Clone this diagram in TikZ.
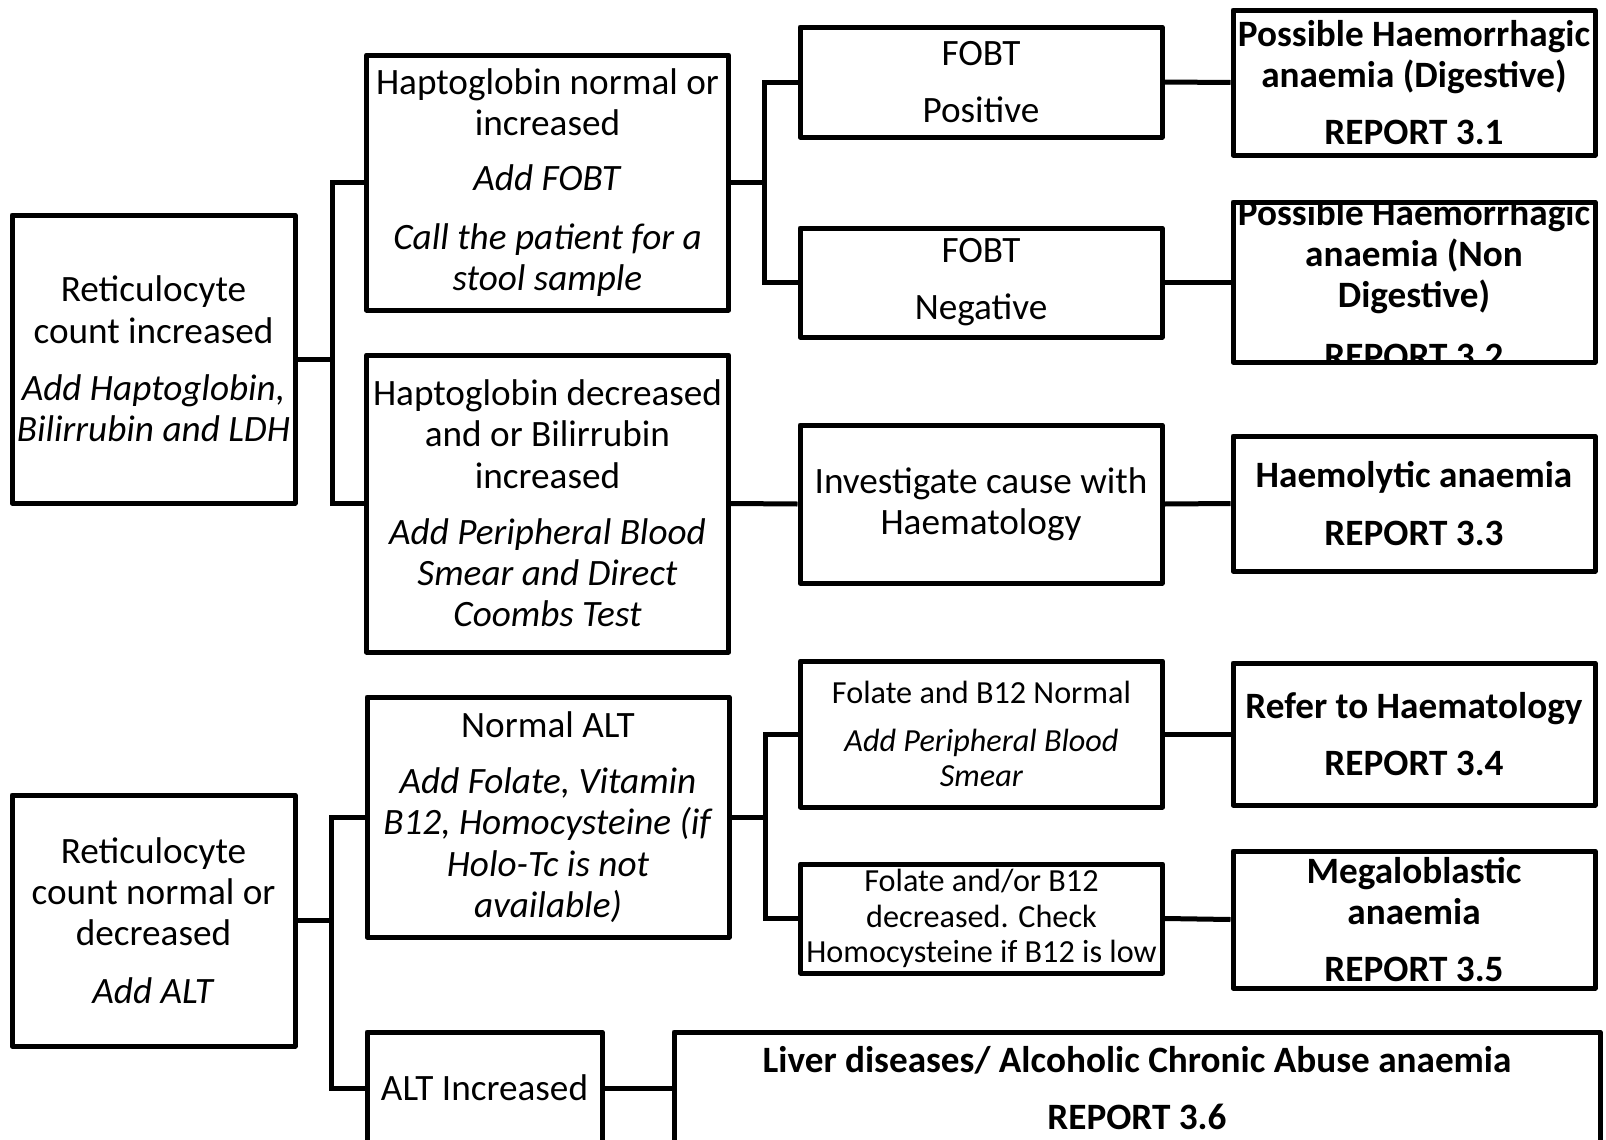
\documentclass[tikz,border=0pt]{standalone}
\usepackage{fontspec}
\setmainfont{Carlito}

\begin{document}
\begin{tikzpicture}[x=0.5pt,y=-0.5pt,
    box/.style={draw, line width=2.5pt, line join=round, fill=white, align=center, inner sep=0pt, minimum width=181pt, font=\fontsize{18.6}{20.6}\selectfont},
    narrow/.style={minimum width=141.5pt},
    tall/.style={minimum height=#1*0.5pt},
    small/.style={font=\fontsize{16.1}{17.8}\selectfont},
    result/.style={font=\fontsize{18.6}{20.6}\selectfont\bfseries},
    wire/.style={line width=2.5pt}]
    \useasboundingbox (0,0) rectangle (1606,1140);
    \clip (0,0) rectangle (1606,1140);

    \node[box, narrow, tall=288] (a) at (153.5,359) {Reticulocyte\\count increased\\[8pt]\textit{Add Haptoglobin,}\\\textit{Bilirrubin and LDH}};
    \node[box, tall=255] (b) at (547.5,182.5) {Haptoglobin normal or\\increased\\[7pt]\textit{Add FOBT}\\[8.5pt]\textit{Call the patient for a}\\\textit{stool sample}};
    \node[box, tall=297] (c) at (547.5,503.5) {Haptoglobin decreased\\and or Bilirrubin\\increased\\[7.5pt]\textit{Add Peripheral Blood}\\\textit{Smear and Direct}\\\textit{Coombs Test}};
    \node[box, tall=110] (d) at (981,82) {FOBT\\[8pt]Positive};
    \node[box, tall=109] (e) at (981,282.5) {FOBT\\[8pt]Negative};
    \node[box, tall=158] (f) at (981,504) {Investigate cause with\\Haematology};
    \node[box, result, tall=145] (g) at (1414,82.5) {Possible Haemorrhagic\\anaemia (Digestive)\\[8pt]REPORT 3.1};
    \node[box, tall=160, path picture={
        \node[draw=none, fill=none, inner sep=0pt, minimum width=0pt, minimum height=0pt, align=center, result, yshift=-1pt]
            at (path picture bounding box.center) {Possible Haemorrhagic\\anaemia (Non\\Digestive)\\[10pt]REPORT 3.2};
    }] (h) at (1414,282) {};
    \node[box, result, tall=135] (i) at (1414,503.5) {Haemolytic anaemia\\[8pt]REPORT 3.3};

    \node[box, narrow, tall=251] (k) at (153.5,920.5) {Reticulocyte\\count normal or\\decreased\\[8pt]\textit{Add ALT}};
    \node[box, tall=240] (l) at (548,817) {Normal ALT\\[7.5pt]\textit{Add Folate, Vitamin}\\\textit{B12, Homocysteine (if}\\\textit{Holo-Tc is not}\\\textit{available)}};
    \node[box, minimum width=117.5pt, tall=112] (m) at (484.5,1088) {ALT Increased};
    \node[box, small, tall=146] (n) at (981.5,734) {Folate and B12 Normal\\[6pt]\textit{Add Peripheral Blood}\\\textit{Smear}};
    \node[box, small, tall=109] (o) at (981.5,918.5) {Folate and/or B12\\decreased. Check\\Homocysteine if B12 is low};
    \node[box, result, tall=142] (p) at (1414,734) {Refer to Haematology\\[8pt]REPORT 3.4};
    \node[box, result, tall=137] (q) at (1414,919.5) {Megaloblastic\\anaemia\\[8pt]REPORT 3.5};
    \node[box, result, minimum width=463pt, tall=112] (r) at (1137,1088) {Liver diseases/ Alcoholic Chronic Abuse anaemia\\[7.5pt]REPORT 3.6};

    \coordinate (j1) at (332,0);
    \coordinate (j2) at (764,0);
    \coordinate (j3) at (331,0);
    \coordinate (j4) at (765,0);

    \draw[wire] (a.east) -- (a.east -| j1) |- (b.west);
    \draw[wire] (a.east -| j1) |- (c.west);
    \draw[wire] (b.east) -- (b.east -| j2) |- (d.west);
    \draw[wire] (b.east -| j2) |- (e.west);
    \draw[wire] (c.east) -- (f.west);
    \draw[wire] (d.east) -- (g.west);
    \draw[wire] (e.east) -- (e.east -| h.west);
    \draw[wire] (f.east) -- (i.west);
    \draw[wire] (k.east) -- (k.east -| j3) |- (l.west);
    \draw[wire] (k.east -| j3) |- (m.west);
    \draw[wire] (l.east) -- (l.east -| j4) |- (n.west);
    \draw[wire] (l.east -| j4) |- (o.west);
    \draw[wire] (n.east) -- (p.west);
    \draw[wire] (o.east) -- (q.west);
    \draw[wire] (m.east) -- (r.west);
\end{tikzpicture}
\end{document}
